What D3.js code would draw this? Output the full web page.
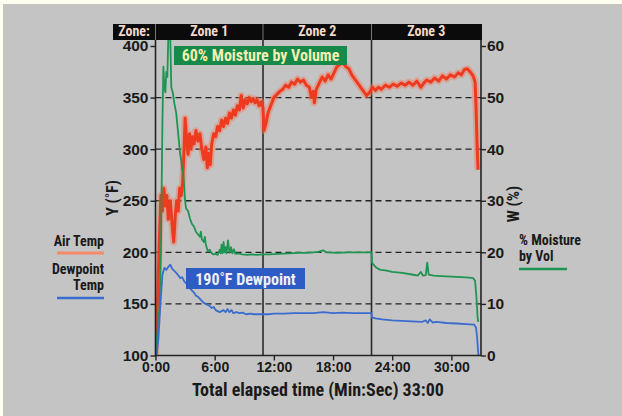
<!DOCTYPE html>
<html><head><meta charset="utf-8">
<script src="https://cdn.jsdelivr.net/npm/d3@7"></script>
<style>
html,body{margin:0;padding:0;background:#fdfdf0;}
svg{display:block;}
text{font-family:"Liberation Sans Narrow","Arial Narrow","Roboto Condensed",sans-serif;font-weight:bold;}
</style></head>
<body>
<svg id="chart" width="622" height="416"></svg>
<script>
// ---- data (time in minutes) ----
const zones = ["Zone 1", "Zone 2", "Zone 3"];
const zoneBounds = [0, 10.9, 21.9, 33];
const xTicks = [0, 6, 12, 18, 24, 30];
const xTickLabels = ["0:00", "6:00", "12:00", "18:00", "24:00", "30:00"];
const yTicksLeft = [100, 150, 200, 250, 300, 350, 400];
const yTicksRight = [0, 10, 20, 30, 40, 50, 60];
const gridValues = [150, 200, 250, 300, 350];

const airTime = [0,0.2,0.4,0.55,0.7,0.85,1.0,1.15,1.3,1.5,1.7,1.85,2.0,2.15,2.3,2.45,2.6,2.75,2.9,3.0,3.15,3.3,3.45,3.6,3.75,3.9,4.1,4.3,4.5,4.7,4.9,5.1,5.25,5.4,5.55,5.7,5.9,6.1,6.3,6.5,6.7,6.9,7.1,7.3,7.5,7.7,7.9,8.1,8.3,8.5,8.7,8.9,9.1,9.3,9.5,9.7,9.9,10.1,10.3,10.5,10.7,10.9,11.0,11.2,11.4,11.6,11.8,12.0,12.3,12.6,12.9,13.2,13.5,13.8,14.1,14.4,14.7,15.0,15.3,15.6,15.8,16.0,16.1,16.3,16.6,16.9,17.2,17.5,17.8,18.1,18.4,18.7,19.0,19.3,19.6,19.9,20.2,20.5,20.8,21.1,21.4,21.7,22.0,22.3,22.6,22.9,23.3,23.7,24.1,24.5,24.9,25.3,25.7,26.1,26.5,26.9,27.2,27.5,27.9,28.3,28.7,29.1,29.5,29.9,30.3,30.7,31.0,31.3,31.6,31.9,32.2,32.4,32.5,32.6,32.7];
const airTemp = [100,150,215,255,240,262,245,255,232,250,225,210,235,250,240,262,255,268,300,330,310,295,315,300,312,305,318,308,315,300,290,302,282,296,285,305,315,312,322,318,328,322,330,325,335,330,338,333,342,338,352,340,348,344,350,346,349,345,348,342,346,340,318,325,335,340,345,350,353,356,358,362,360,365,363,368,365,367,362,360,350,356,345,358,364,370,366,372,368,374,380,382,384,380,378,372,368,364,360,356,352,355,360,357,360,358,362,360,363,361,364,362,365,362,366,360,364,367,365,369,366,371,368,372,370,374,372,377,378,375,371,365,340,305,280];

const dewTime = [0,0.15,0.3,0.5,0.7,0.9,1.1,1.3,1.5,1.7,1.9,2.1,2.3,2.5,2.7,2.9,3.1,3.3,3.5,3.7,3.9,4.1,4.3,4.5,4.7,4.9,5.1,5.3,5.5,5.7,5.9,6.1,6.3,6.5,6.7,6.9,7.1,7.3,7.5,7.7,7.9,8.2,8.5,8.8,9.2,9.6,10,10.5,10.9,11.5,12,13,14,15,16,17,18,19,20,21,21.9,21.95,22.3,23,24,25,26,27,27.4,27.6,27.8,28.1,28.5,29.5,30.5,31.5,32.3,32.5,32.6,32.7,32.75];
const dewTemp = [100,102,118,150,178,185,183,186,188,184,182,180,178,175,176,172,170,168,165,163,161,158,157,155,153,151,150,149,148,146,147,144,143,142,143,144,142,145,142,144,141,142,141,141.5,140,140.5,140,140,140,140,140.5,140.5,141,141,141,142,141,141.5,141,141,141,137,136,135,134,133.5,133,132.5,134,131.5,135,132,132.5,131.5,131,130.5,130,127,118,105,100];

const moistTime = [0,0.2,0.4,0.55,0.7,0.8,0.9,1.0,1.1,1.2,1.3,1.45,1.6,1.75,1.9,2.1,2.3,2.5,2.6,2.7,2.8,2.9,3.0,3.1,3.3,3.5,3.7,3.9,4.1,4.3,4.5,4.6,4.7,4.9,5.0,5.1,5.3,5.5,5.7,5.9,6.1,6.3,6.5,6.6,6.7,6.8,6.9,7.0,7.1,7.2,7.35,7.5,7.65,7.8,7.95,8.1,8.4,8.8,9.3,9.8,10.3,10.9,11.5,12.5,13.5,14.5,15.5,16.5,17,17.3,18.5,19.5,20.5,21.5,21.9,21.95,22.1,22.4,22.8,23.3,24,25,26,26.6,26.9,27.1,27.4,27.55,27.7,28.2,29,30,31,31.8,32.2,32.4,32.55,32.65,32.72];
const moistPct = [0,5,9,20,45,56,52,51,55,54,62,66,52,51,49,47,43,39,38,36,35.5,33,30,28.5,28,26.5,25.5,25,24,23.5,23,24,22.5,22,23,21.5,20.2,20.5,19.8,19.6,19.7,19.5,20.5,19.8,21.5,19.8,22,20,21,19.8,22.3,19.9,21,19.8,20.6,19.7,19.8,19.6,19.5,19.6,19.5,19.6,19.6,19.7,19.8,19.9,19.9,20.1,20.4,20,19.9,20,20,20,20,18,17.6,17,16.6,16.5,16.2,16,15.7,15.5,16.2,15.5,15.6,18,15.7,15.5,15.4,15.3,15.2,15.1,15.0,14.5,11,7.5,6.5];

// ---- layout ----
const svg = d3.select("#chart");
const W = 622, H = 416;
svg.append("rect").attr("x", 3).attr("y", 4).attr("width", W - 3).attr("height", H - 4).attr("fill", "#c4c4c4");

const x = d3.scaleLinear().domain([0, 33]).range([155.5, 481]);
const yL = d3.scaleLinear().domain([100, 400]).range([355.5, 46]);
const yR = d3.scaleLinear().domain([0, 60]).range([355.5, 46]);
const plotTop = 40;

// header zone bar
const hdr = svg.append("g");
hdr.append("rect").attr("x", 113).attr("y", 24).attr("width", 369).attr("height", 16).attr("fill", "#0b0b0b");
hdr.append("text").attr("x", 134).attr("y", 36).attr("text-anchor", "middle")
  .attr("font-size", 14).attr("fill", "#f2d8c8").text("Zone:");
zones.forEach((z, i) => {
  const x0 = x(zoneBounds[i]), x1 = x(zoneBounds[i + 1]);
  hdr.append("line").attr("x1", x0).attr("x2", x0).attr("y1", 24).attr("y2", 40).attr("stroke", "#777").attr("stroke-width", 1);
  hdr.append("text").attr("x", (x0 + x1) / 2).attr("y", 36).attr("text-anchor", "middle")
    .attr("font-size", 14).attr("fill", "#f2d8c8").text(z);
});

// gridlines
svg.append("g").selectAll("line").data(gridValues).join("line")
  .attr("x1", x(0)).attr("x2", x(33)).attr("y1", d => yL(d)).attr("y2", d => yL(d))
  .attr("stroke", "#222").attr("stroke-width", 1.3).attr("stroke-dasharray", "6,4");

// zone divider lines
svg.append("g").selectAll("line").data(zoneBounds.slice(1, 3)).join("line")
  .attr("x1", d => x(d)).attr("x2", d => x(d)).attr("y1", plotTop).attr("y2", 355.5)
  .attr("stroke", "#2a2a2a").attr("stroke-width", 1.6);

// clip
svg.append("clipPath").attr("id", "clip").append("rect")
  .attr("x", x(0)).attr("y", plotTop).attr("width", x(33) - x(0)).attr("height", 355.5 - plotTop);

const plot = svg.append("g").attr("clip-path", "url(#clip)");
const airData = airTime.map((t, i) => [t, airTemp[i]]);
const dewData = dewTime.map((t, i) => [t, dewTemp[i]]);
const moistData = moistTime.map((t, i) => [t, moistPct[i]]);
const lineL = d3.line().x(d => x(d[0])).y(d => yL(d[1]));
const lineR = d3.line().x(d => x(d[0])).y(d => yR(d[1]));

plot.append("path").attr("d", lineL(airData)).attr("fill", "none")
  .attr("stroke", "#f47a5a").attr("stroke-width", 7).attr("stroke-opacity", 0.45).attr("stroke-linejoin", "round");
plot.append("path").attr("d", lineL(airData)).attr("fill", "none")
  .attr("stroke", "#ee3a1e").attr("stroke-width", 3).attr("stroke-linejoin", "round");
plot.append("path").attr("d", lineR(moistData)).attr("fill", "none")
  .attr("stroke", "#1e9552").attr("stroke-width", 1.8).attr("stroke-linejoin", "round");
plot.append("path").attr("d", lineL(dewData)).attr("fill", "none")
  .attr("stroke", "#3a6cd0").attr("stroke-width", 1.8).attr("stroke-linejoin", "round");

// axes
const axL = svg.append("g").attr("transform", `translate(${x(0)},0)`)
  .call(d3.axisLeft(yL).tickValues(yTicksLeft).tickSize(5).tickPadding(2));
const axR = svg.append("g").attr("transform", `translate(${x(33)},0)`)
  .call(d3.axisRight(yR).tickValues(yTicksRight).tickSize(5).tickPadding(1));
const axB = svg.append("g").attr("transform", `translate(0,355.5)`)
  .call(d3.axisBottom(x).tickValues(xTicks).tickFormat((d, i) => xTickLabels[i]).tickSize(5).tickPadding(2));
[axL, axR, axB].forEach(a => {
  a.select(".domain").remove();
  a.selectAll(".tick line").attr("stroke", "#222").attr("stroke-width", 1.4);
  a.selectAll(".tick text").attr("fill", "#1a1a1a").attr("font-size", 15.5)
    .style("font-family", '"Liberation Sans Narrow","Arial Narrow",sans-serif').style("font-weight", "bold");
});
axB.selectAll(".tick text").attr("font-size", 14);
// axis lines
svg.append("line").attr("x1", x(0)).attr("x2", x(0)).attr("y1", plotTop).attr("y2", 356).attr("stroke", "#222").attr("stroke-width", 1.6);
svg.append("line").attr("x1", x(33)).attr("x2", x(33)).attr("y1", plotTop).attr("y2", 356).attr("stroke", "#222").attr("stroke-width", 1.6);
svg.append("line").attr("x1", x(0)).attr("x2", x(33)).attr("y1", 355.5).attr("y2", 355.5).attr("stroke", "#222").attr("stroke-width", 1.6);

// axis titles
svg.append("text").attr("transform", "translate(118,198) rotate(-90)").attr("text-anchor", "middle")
  .attr("font-size", 16).attr("fill", "#1a1a1a").text("Y (˚F)");
svg.append("text").attr("transform", "translate(519,204) rotate(-90)").attr("text-anchor", "middle")
  .attr("font-size", 16).attr("fill", "#1a1a1a").text("W (%)");
svg.append("text").attr("x", 318).attr("y", 396).attr("text-anchor", "middle")
  .attr("font-size", 18).attr("fill", "#1a1a1a").text("Total elapsed time (Min:Sec) 33:00");

// annotations
svg.append("rect").attr("x", 174).attr("y", 46).attr("width", 173).attr("height", 19).attr("fill", "#17894a");
svg.append("text").attr("x", 260.5).attr("y", 61).attr("text-anchor", "middle")
  .attr("font-size", 16).attr("fill", "#f4efb0").text("60% Moisture by Volume");
svg.append("rect").attr("x", 186).attr("y", 268).attr("width", 119).attr("height", 21).attr("fill", "#2c5cc4");
svg.append("text").attr("x", 245.5).attr("y", 284.5).attr("text-anchor", "middle")
  .attr("font-size", 16).attr("fill", "#f4eef4").text("190˚F Dewpoint");

// legends
const legL = svg.append("g").attr("fill", "#1a1a1a");
legL.append("text").attr("x", 104).attr("y", 246).attr("text-anchor", "end").attr("font-size", 14).text("Air Temp");
legL.append("line").attr("x1", 57).attr("x2", 104).attr("y1", 253).attr("y2", 253).attr("stroke", "#f48a68").attr("stroke-width", 3);
legL.append("text").attr("x", 104).attr("y", 274).attr("text-anchor", "end").attr("font-size", 14).text("Dewpoint");
legL.append("text").attr("x", 104).attr("y", 290).attr("text-anchor", "end").attr("font-size", 14).text("Temp");
legL.append("line").attr("x1", 57).attr("x2", 104).attr("y1", 298).attr("y2", 298).attr("stroke", "#3a6cd0").attr("stroke-width", 2.5);
const legR = svg.append("g").attr("fill", "#1a1a1a");
legR.append("text").attr("x", 519).attr("y", 245).attr("font-size", 14).text("% Moisture");
legR.append("text").attr("x", 519).attr("y", 261).attr("font-size", 14).text("by Vol");
legR.append("line").attr("x1", 519).attr("x2", 567).attr("y1", 269).attr("y2", 269).attr("stroke", "#1e9552").attr("stroke-width", 2.5);
</script>
</body></html>
